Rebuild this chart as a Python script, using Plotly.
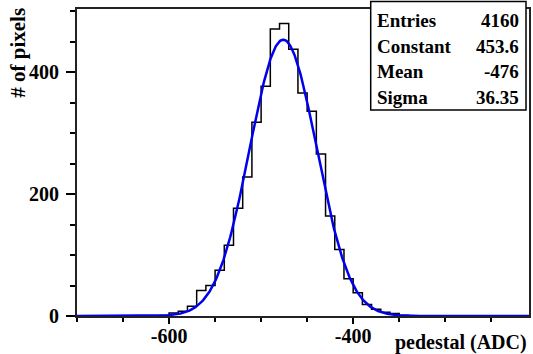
import numpy as np
import plotly.graph_objects as go

# Histogram data (bin lower edges, width 10 ADC)
bin_low = [-700, -690, -680, -670, -660, -650, -640, -630, -620, -610,
           -600, -590, -580, -570, -560, -550, -540, -530, -520, -510,
           -500, -490, -480, -470, -460, -450, -440, -430, -420, -410,
           -400, -390, -380, -370, -360, -350, -340, -330, -320, -310,
           -300, -290, -280, -270, -260, -250, -240, -230, -220]
counts = [0, 0, 0, 0, 0, 0, 0, 0, 0, 1,
          5, 8, 16, 42, 50, 75, 116, 177, 228, 318,
          377, 471, 480, 438, 366, 336, 266, 164, 109, 61,
          38, 19, 11, 6, 4, 1, 0, 0, 0, 0,
          0, 0, 0, 0, 0, 0, 0, 0, 0]
bin_width = 10

# Tick labels
x_tickvals = [-600, -400]
x_ticktext = ["-600", "-400"]
y_tickvals = [0, 200, 400]
y_ticktext = ["0", "200", "400"]

# Fit / stats values
stat_names = ["Entries", "Constant", "Mean", "Sigma"]
stat_values = ["4160", "453.6", "-476", "36.35"]
fit_constant = 453.6
fit_mean = -476.0
fit_sigma = 36.35

x_range = [-700, -209]
y_range = [0, 504]

FONT = "Liberation Serif"

# step outline
xs = list(bin_low) + [bin_low[-1] + bin_width]
ys = list(counts) + [counts[-1]]

xf = np.linspace(x_range[0], x_range[1], 600)
yf = fit_constant * np.exp(-0.5 * ((xf - fit_mean) / fit_sigma) ** 2)

fig = go.Figure()
fig.add_trace(go.Scatter(x=xs, y=ys, mode="lines", line=dict(color="black", width=1.5, shape="hv"),
                         hoverinfo="skip", showlegend=False))
fig.add_trace(go.Scatter(x=xf, y=yf, mode="lines", line=dict(color="#0000ee", width=2.5),
                         hoverinfo="skip", showlegend=False))

W, H = 533, 354
L, R, T, B = 77, 2, 9, 38
pw = W - L - R
ph = H - T - B

def px2x(px):
    return (px - L) / pw

def py2y(py):
    return (H - B - py) / ph

def font(s):
    return dict(family=FONT, size=s, color="black")

fig.update_layout(
    width=W, height=H,
    margin=dict(l=L, r=R, t=T, b=B),
    paper_bgcolor="white", plot_bgcolor="white",
    showlegend=False,
    font=font(19),
)
fig.update_xaxes(range=x_range, tickmode="array", tickvals=x_tickvals,
                 ticktext=["<b>%s</b>" % t for t in x_ticktext],
                 ticks="outside", ticklen=6, tickwidth=1.5,
                 tickcolor="black", showline=True, mirror=True, linecolor="#222", linewidth=2,
                 showgrid=False, zeroline=False, ticklabelstandoff=-5,
                 tickfont=font(20),
                 minor=dict(dtick=50, tick0=-600, ticks="outside", ticklen=4, tickcolor="black", showgrid=False))
fig.update_yaxes(range=y_range, tickmode="array", tickvals=y_tickvals,
                 ticktext=["<b>%s</b>" % t for t in y_ticktext],
                 ticks="outside", ticklen=9, tickwidth=1.5,
                 tickcolor="black", showline=True, mirror=True, linecolor="#222", linewidth=2,
                 showgrid=False, zeroline=False, ticklabelstandoff=3,
                 tickfont=font(20),
                 minor=dict(dtick=50, tick0=0, ticks="outside", ticklen=5, tickcolor="black", showgrid=False))

# axis titles
fig.add_annotation(text="<b># of pixels</b>", xref="paper", yref="paper", x=px2x(17.5), y=py2y(53),
                   textangle=-90, showarrow=False, xanchor="center", yanchor="middle",
                   font=font(21))
fig.add_annotation(text="<b>pedestal (ADC)</b>", xref="paper", yref="paper", x=px2x(531), y=py2y(342),
                   showarrow=False, xanchor="right", yanchor="middle",
                   font=font(20))

# stats box
fig.add_shape(type="rect", xref="paper", yref="paper", x0=px2x(372), x1=px2x(528),
              y0=py2y(110), y1=py2y(1.5), line=dict(color="black", width=1.5), fillcolor="white",
              layer="above")
row_y = [20.7, 46.7, 71.7, 97.5]
for name, val, ry in zip(stat_names, stat_values, row_y):
    fig.add_annotation(text="<b>%s</b>" % name, xref="paper", yref="paper", x=px2x(376), y=py2y(ry),
                       showarrow=False, xanchor="left", yanchor="middle",
                       font=font(19))
    fig.add_annotation(text="<b>%s</b>" % val, xref="paper", yref="paper", x=px2x(523), y=py2y(ry),
                       showarrow=False, xanchor="right", yanchor="middle",
                       font=font(19))

fig.write_html("out.html")
